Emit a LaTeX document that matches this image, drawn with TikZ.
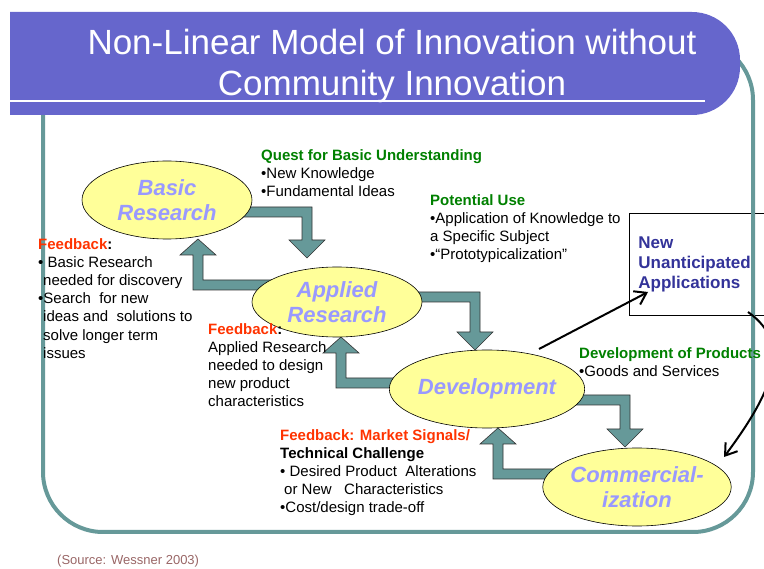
\documentclass[tikz,border=0pt]{standalone}
\usepackage{fontspec}
\setmainfont{Liberation Sans}
\usetikzlibrary{shapes.geometric,arrows.meta,calc}
\definecolor{bandpurple}{HTML}{6666CC}
\definecolor{frameteal}{HTML}{669999}
\definecolor{ellyellow}{HTML}{FFFF99}
\definecolor{elltext}{HTML}{9999FF}
\definecolor{headgreen}{HTML}{008000}
\definecolor{fbred}{HTML}{FF3300}
\definecolor{nuablue}{HTML}{333399}
\definecolor{srccolor}{HTML}{996666}
\newcommand{\DownBlock}[2]{\path[blockarrow] let \p1=(#1), \p2=(#2) in
  (\x1,\y1+5pt) -- (\x2+5pt,\y1+5pt) -- (\x2+5pt,\y2+18pt) -- (\x2+18pt,\y2+18pt) -- (\x2,\y2)
  -- (\x2-18pt,\y2+18pt) -- (\x2-5pt,\y2+18pt) -- (\x2-5pt,\y1-5pt) -- (\x1,\y1-5pt) -- cycle;}
\newcommand{\UpBlock}[2]{\path[blockarrow] let \p1=(#1), \p2=(#2) in
  (\x1,\y1-5pt) -- (\x2-5pt,\y1-5pt) -- (\x2-5pt,\y2-16pt) -- (\x2-18pt,\y2-16pt) -- (\x2,\y2)
  -- (\x2+18pt,\y2-16pt) -- (\x2+5pt,\y2-16pt) -- (\x2+5pt,\y1+5pt) -- (\x1,\y1+5pt) -- cycle;}
\begin{document}
\begin{tikzpicture}[x=1pt,y=-1pt,
  frame/.style={draw=frameteal,line width=4pt,rounded corners=60pt},
  titletext/.style={text=white,font=\fontsize{35}{40}\selectfont,anchor=base,inner sep=0pt},
  blockarrow/.style={fill=frameteal,draw=black!80,line width=0.6pt},
  ellnode/.style={ellipse,draw=black,line width=0.6pt,fill=ellyellow,text=elltext,
    font=\fontsize{22}{25}\selectfont\bfseries\itshape,align=center,inner sep=0pt},
  textblock/.style={anchor=north west,align=left,inner sep=0pt,font=\fontsize{15}{18.2}\selectfont},
  nuabox/.style={draw=black,line width=0.8pt,anchor=north west,minimum width=150pt,minimum height=102pt,
    text width=132pt,inner xsep=9pt,align=left,font=\fontsize{17}{20}\selectfont\bfseries,text=nuablue},
  thinarrow/.style={draw=black,line width=2pt,-{Straight Barb[length=11pt,width=15pt]}}]
\useasboundingbox (0,0) rectangle (764,569);

% New unanticipated applications box
\node[nuabox] (nua) at (629,213) {New\\Unanticipated\\Applications};

% frame
\draw[frame] (43,40) rectangle (753,532);

% title band
\begin{scope}
  \clip (10,0) rectangle (764,200);
  \fill[bandpurple,rounded corners=48pt] (-100,12) rectangle (740,115);
\end{scope}
\coordinate (ulA) at (10,101);
\coordinate (ulB) at (705,101);
\draw[white,line width=2.5pt] (ulA) -- (ulB);
\node[titletext] (title1) at (392,55) {Non-Linear Model of Innovation without};
\node[titletext] (title2) at (392,96) {Community Innovation};

% block arrows
\coordinate (a1s) at (240,212); \coordinate (a1t) at (307,258);
\coordinate (a2s) at (410,297); \coordinate (a2t) at (475,350);
\coordinate (a3s) at (560,400); \coordinate (a3t) at (625,447);
\coordinate (a4s) at (275,285); \coordinate (a4t) at (198,239);
\coordinate (a5s) at (415,383); \coordinate (a5t) at (341,337);
\coordinate (a6s) at (565,474); \coordinate (a6t) at (498,428);
\DownBlock{a1s}{a1t}
\DownBlock{a2s}{a2t}
\DownBlock{a3s}{a3t}
\UpBlock{a4s}{a4t}
\UpBlock{a5s}{a5t}
\UpBlock{a6s}{a6t}

% ellipses
\node[ellnode,minimum width=170pt,minimum height=78pt] (basic) at (167,200) {Basic\\Research};
\node[ellnode,minimum width=170pt,minimum height=70pt] (applied) at (337,302) {Applied\\Research};
\node[ellnode,minimum width=172pt,minimum height=78pt] (dev) at (487,389) {Development};
\node[ellnode,minimum width=170pt,minimum height=78pt] (comm) at (637,487) {Commercial-\\ization};

% text blocks
\node[textblock] (quest) at (261,149) {{\bfseries\color{headgreen}Quest for Basic Understanding}\\•New Knowledge\\•Fundamental Ideas};
\node[textblock] (potential) at (430,194) {{\bfseries\color{headgreen}Potential Use}\\•Application of Knowledge to\\a Specific Subject\\•“Prototypicalization”};
\node[textblock] (fbleft) at (38,238) {{\bfseries\color{fbred}Feedback}\textbf{:}\\• Basic Research\\\hspace*{5pt}needed for discovery\\•Search\ \ for new\\\hspace*{5pt}ideas and\ \ solutions to\\\hspace*{5pt}solve longer term\\\hspace*{5pt}issues};
\node[textblock] (fbmid) at (208,323) {{\bfseries\color{fbred}Feedback}\textbf{:}\\Applied Research\\needed to design\\new product\\characteristics};
\node[textblock] (fbbot) at (280,429) {{\bfseries\color{fbred}Feedback: Market Signals/}\\\textbf{Technical Challenge}\\• Desired Product\ \ Alterations\\\hspace*{4pt}or New\ \ \ Characteristics\\•Cost/design trade-off};
\node[textblock] (devprod) at (579,347) {{\bfseries\color{headgreen}Development of Products}\\•Goods and Services};

% thin black arrows
\coordinate (devout) at (539,349);
\coordinate (nuain) at (648,292);
\draw[thinarrow] (devout) -- (nuain);
\coordinate (nuaout) at (748,312);
\coordinate (commin) at (724,457);
\draw[thinarrow] (nuaout) .. controls (795,345) and (770,395) .. (commin);

% source
\node[anchor=base west,inner sep=0pt,text=srccolor,font=\fontsize{13}{15}\selectfont] (source) at (57,565) {(Source: Wessner 2003)};
\end{tikzpicture}
\end{document}
